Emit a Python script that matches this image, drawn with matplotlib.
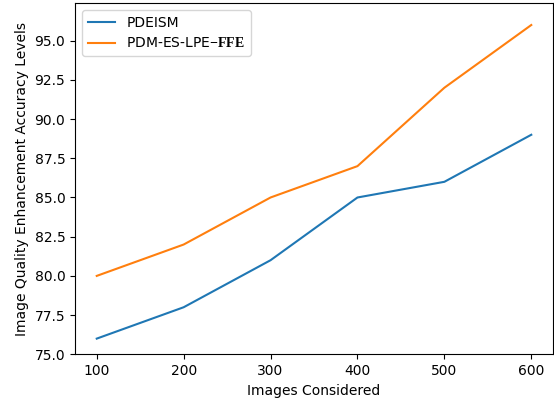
import matplotlib
matplotlib.use('Agg')
import matplotlib.pyplot as plt

# serif bold look for the pasted "-FFE" part of the legend label
plt.rcParams['mathtext.fontset'] = 'custom'
plt.rcParams['mathtext.rm'] = 'Liberation Serif'
plt.rcParams['mathtext.bf'] = 'Liberation Serif:bold'

images = [100, 200, 300, 400, 500, 600]
pdeism = [76, 78, 81, 85, 86, 89]
pdm_es_lpe_ffe = [80, 82, 85, 87, 92, 96]

fig = plt.figure(figsize=(5.54, 4.07), dpi=100)
ax = fig.add_axes([0.1354, 0.1295, 0.8628, 0.863])

ax.plot(images, pdeism, color='#1f77b4', label='PDEISM')
ax.plot(images, pdm_es_lpe_ffe, color='#ff7f0e', label=r'PDM-ES-LPE$\mathbf{-FFE}$')

ax.set_ylim(75, 97.4)
ax.set_xlabel('Images Considered')
ax.set_ylabel('Image Quality Enhancement Accuracy Levels')
ax.legend(loc='upper left')

fig.savefig('out.png', dpi=100)
